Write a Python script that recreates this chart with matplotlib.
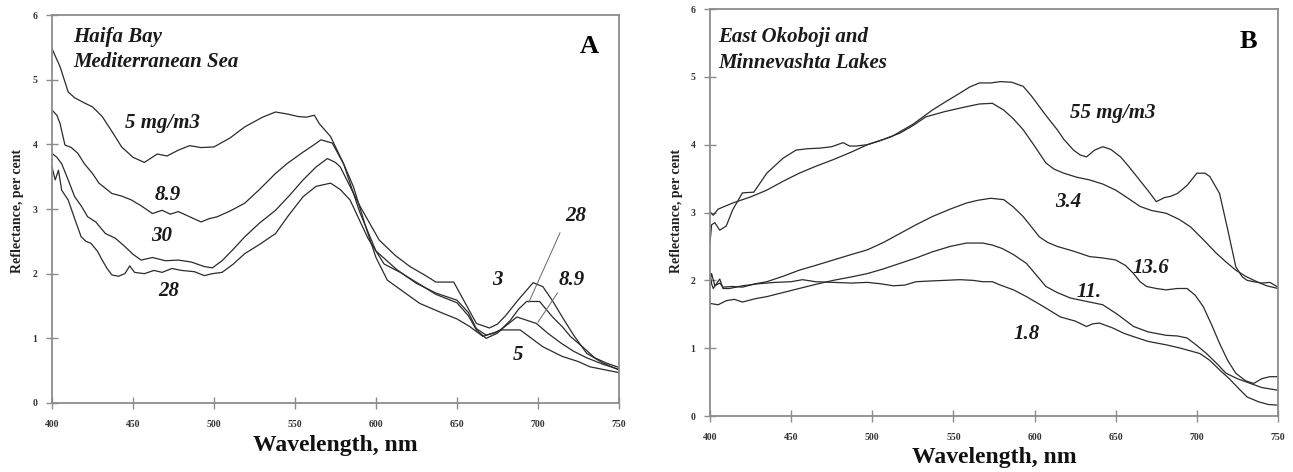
import matplotlib
matplotlib.use("Agg")
import matplotlib.pyplot as plt

plt.rcParams['font.family'] = ['Liberation Serif', 'DejaVu Serif']

# ---- panel A : Haifa Bay ----
wl_a5 = [400, 405, 410, 414, 420, 425, 431, 437, 443, 450, 457, 465, 471, 478, 485, 492, 500, 510, 519, 530,
         538, 545, 552, 557, 562, 565, 572, 580, 586, 594, 600, 607, 617, 627, 641, 650, 658, 666, 672, 678,
         689, 696, 703, 715, 725, 732, 740, 750]
r_a5 = [5.48, 5.20, 4.81, 4.72, 4.64, 4.58, 4.43, 4.20, 3.96, 3.80, 3.72, 3.85, 3.82, 3.91, 3.98, 3.95, 3.96, 4.10, 4.27, 4.42,
        4.50, 4.47, 4.43, 4.42, 4.45, 4.32, 4.12, 3.70, 3.35, 2.70, 2.25, 1.90, 1.72, 1.54, 1.39, 1.30, 1.18, 1.03, 1.08, 1.13,
        1.13, 1.00, 0.87, 0.72, 0.64, 0.56, 0.52, 0.47]

wl_a89 = [400, 403, 405, 408, 412, 416, 420, 425, 429, 433, 437, 443, 449, 455, 462, 468, 473, 478, 485, 492,
          497, 502, 510, 519, 528, 538, 545, 555, 561, 566, 573, 580, 590, 600, 613, 625, 637, 650, 657, 662,
          668, 673, 678, 687, 693, 699, 706, 714, 722, 730, 740, 750]
r_a89 = [4.53, 4.45, 4.32, 3.99, 3.95, 3.86, 3.70, 3.55, 3.40, 3.32, 3.24, 3.20, 3.14, 3.05, 2.93, 2.98, 2.92, 2.96, 2.88, 2.80,
         2.85, 2.88, 2.97, 3.09, 3.30, 3.55, 3.70, 3.88, 3.98, 4.07, 4.02, 3.70, 2.95, 2.35, 2.06, 1.85, 1.70, 1.59, 1.40, 1.15,
         1.05, 1.08, 1.15, 1.33, 1.28, 1.23, 1.08, 0.93, 0.80, 0.70, 0.60, 0.52]

wl_a30 = [400, 403, 406, 410, 414, 418, 422, 427, 433, 439, 445, 450, 455, 462, 470, 478, 486, 494, 499, 505,
          512, 519, 528, 538, 547, 555, 563, 570, 575, 578, 590, 602, 612, 621, 630, 637, 648, 655, 662, 670,
          675, 680, 688, 697, 703, 709, 715, 722, 730, 740, 750]
r_a30 = [3.86, 3.80, 3.70, 3.45, 3.19, 3.05, 2.88, 2.80, 2.62, 2.55, 2.42, 2.30, 2.21, 2.25, 2.20, 2.21, 2.18, 2.11, 2.09, 2.20,
         2.38, 2.57, 2.78, 2.98, 3.22, 3.45, 3.65, 3.78, 3.72, 3.65, 3.05, 2.52, 2.28, 2.11, 1.98, 1.87, 1.87, 1.55, 1.23, 1.16,
         1.22, 1.35, 1.60, 1.86, 1.80, 1.58, 1.33, 1.05, 0.77, 0.62, 0.51]

wl_a28 = [400, 402, 404, 406, 410, 414, 418, 421, 424, 428, 431, 434, 437, 441, 445, 448, 451, 457, 463, 468,
          474, 480, 488, 494, 499, 505, 512, 519, 528, 538, 546, 555, 563, 572, 578, 584, 595, 605, 615, 626,
          637, 650, 657, 662, 668, 675, 683, 688, 693, 701, 705, 709, 715, 720, 727, 735, 742, 750]
r_a28 = [3.65, 3.45, 3.60, 3.29, 3.14, 2.85, 2.57, 2.50, 2.47, 2.35, 2.21, 2.08, 1.98, 1.96, 2.00, 2.12, 2.02, 2.00, 2.05, 2.02,
         2.08, 2.05, 2.03, 1.97, 2.00, 2.02, 2.15, 2.31, 2.45, 2.62, 2.90, 3.19, 3.35, 3.40, 3.30, 3.14, 2.55, 2.15, 2.02, 1.85,
         1.68, 1.55, 1.35, 1.13, 1.00, 1.08, 1.28, 1.45, 1.57, 1.57, 1.45, 1.33, 1.18, 1.03, 0.88, 0.70, 0.62, 0.55]

# ---- panel B : East Okoboji and Minnevashta Lakes ----
wl_b55 = [400, 401, 403, 406, 410, 414, 420, 427, 435, 445, 453, 460, 468, 475, 482, 486, 490, 497, 505, 512,
          517, 525, 537, 545, 554, 560, 566, 573, 579, 586, 593, 598, 603, 608, 614, 618, 624, 628, 632, 637,
          642, 647, 653, 658, 663, 670, 675, 680, 684, 688, 694, 700, 705, 708, 714, 719, 724, 728, 731, 735,
          740, 745, 750]
r_b55 = [2.55, 2.82, 2.85, 2.74, 2.80, 3.04, 3.29, 3.30, 3.58, 3.80, 3.92, 3.94, 3.95, 3.97, 4.03, 3.98, 3.98, 4.00, 4.06, 4.12,
         4.19, 4.30, 4.51, 4.63, 4.76, 4.85, 4.91, 4.91, 4.93, 4.92, 4.86, 4.72, 4.56, 4.40, 4.22, 4.08, 3.92, 3.85, 3.82, 3.92,
         3.97, 3.93, 3.82, 3.68, 3.53, 3.32, 3.16, 3.22, 3.24, 3.28, 3.40, 3.58, 3.58, 3.53, 3.28, 2.75, 2.20, 2.05, 2.00, 1.98,
         1.96, 1.97, 1.90]

wl_b34 = [400, 402, 405, 414, 425, 435, 445, 455, 465, 476, 487, 497, 507, 517, 525, 533, 545, 558, 566, 574,
          581, 587, 593, 600, 607, 612, 618, 626, 634, 642, 650, 657, 665, 672, 681, 689, 696, 704, 712, 718,
          724, 730, 737, 743, 750]
r_b34 = [3.01, 2.96, 3.05, 3.14, 3.23, 3.33, 3.46, 3.58, 3.68, 3.78, 3.89, 4.00, 4.08, 4.17, 4.28, 4.41, 4.49, 4.56, 4.60, 4.61,
         4.51, 4.38, 4.22, 3.98, 3.73, 3.64, 3.58, 3.52, 3.48, 3.42, 3.33, 3.22, 3.09, 3.03, 2.99, 2.90, 2.79, 2.60, 2.40, 2.27,
         2.15, 2.06, 1.98, 1.92, 1.88]

wl_b136 = [400, 401, 403, 406, 408, 414, 420, 428, 435, 445, 455, 465, 476, 487, 497, 507, 517, 527, 537, 548,
           558, 565, 573, 581, 587, 593, 603, 608, 614, 624, 634, 642, 650, 656, 661, 665, 669, 675, 681, 688,
           694, 699, 704, 709, 714, 719, 724, 730, 735, 740, 745, 750]
r_b136 = [2.00, 2.10, 1.92, 1.96, 1.90, 1.91, 1.90, 1.95, 1.98, 2.06, 2.15, 2.22, 2.30, 2.38, 2.45, 2.56, 2.69, 2.82, 2.94, 3.05,
          3.14, 3.18, 3.21, 3.19, 3.08, 2.94, 2.64, 2.56, 2.50, 2.43, 2.35, 2.33, 2.30, 2.22, 2.10, 1.98, 1.91, 1.88, 1.86, 1.88,
          1.88, 1.78, 1.61, 1.35, 1.07, 0.82, 0.63, 0.52, 0.48, 0.55, 0.58, 0.58]

wl_b11 = [400, 405, 410, 415, 420, 428, 435, 445, 455, 465, 476, 487, 497, 507, 517, 527, 537, 548, 558, 568,
          574, 580, 587, 595, 601, 607, 614, 622, 632, 642, 651, 661, 670, 681, 688, 694, 700, 706, 712, 718,
          725, 733, 740, 750]
r_b11 = [1.66, 1.64, 1.70, 1.72, 1.68, 1.73, 1.76, 1.82, 1.88, 1.94, 2.00, 2.05, 2.10, 2.17, 2.25, 2.33, 2.42, 2.50, 2.55, 2.55,
         2.52, 2.47, 2.38, 2.25, 2.08, 1.91, 1.82, 1.74, 1.69, 1.64, 1.50, 1.32, 1.24, 1.19, 1.18, 1.15, 1.04, 0.92, 0.78, 0.63,
         0.55, 0.48, 0.42, 0.38]

wl_b18 = [400, 401, 402, 404, 406, 408, 412, 420, 430, 440, 450, 457, 465, 476, 487, 497, 505, 513, 520, 527,
          535, 545, 554, 562, 568, 574, 579, 587, 595, 605, 616, 625, 632, 636, 640, 648, 655, 661, 670, 681,
          690, 696, 702, 708, 714, 720, 726, 731, 738, 744, 750]
r_b18 = [2.10, 1.95, 1.88, 1.95, 2.02, 1.88, 1.88, 1.92, 1.95, 1.97, 1.98, 2.01, 1.98, 1.97, 1.96, 1.97, 1.95, 1.92, 1.93, 1.98,
         1.99, 2.00, 2.01, 2.00, 1.98, 1.98, 1.93, 1.86, 1.76, 1.62, 1.46, 1.40, 1.32, 1.36, 1.37, 1.30, 1.22, 1.17, 1.10, 1.05,
         1.00, 0.96, 0.92, 0.82, 0.68, 0.55, 0.40, 0.28, 0.21, 0.17, 0.16]

line_col = '#2b2b2b'
frame_col = '#8c8c8c'
lab = dict(fontsize=15, fontweight='bold', fontstyle='italic', color='#1a1a1a')


def style_axes(ax):
    ax.set_xlim(400, 750)
    ax.set_ylim(0, 6)
    ax.set_xticks(range(400, 751, 50))
    ax.set_yticks(range(0, 7))
    for s in ax.spines.values():
        s.set_color(frame_col)
        s.set_linewidth(1.3)
    ax.tick_params(direction='inout', length=9, width=1.0, color=frame_col,
                   labelsize=7, labelcolor='#333333')
    ax.tick_params(axis='x', pad=8)
    ax.tick_params(axis='y', pad=6)
    for t in ax.get_xticklabels() + ax.get_yticklabels():
        t.set_fontweight('bold')


fig = plt.figure(figsize=(12.93, 4.72), dpi=100)

# panel A
axA = fig.add_axes([0.0402, 0.1462, 0.4385, 0.822])
for w, r in [(wl_a5, r_a5), (wl_a89, r_a89), (wl_a30, r_a30), (wl_a28, r_a28)]:
    axA.plot(w, r, color=line_col, lw=0.9)
style_axes(axA)
axA.text(413, 5.58, 'Haifa Bay', **lab)
axA.text(413, 5.19, 'Mediterranean Sea', **lab)
axA.text(731.5, 5.52, 'A', fontsize=19, fontweight='bold', ha='center', va='center')
axA.text(468.5, 4.33, '5 mg/m3', ha='center', va='center', **lab)
axA.text(471.6, 3.21, '8.9', ha='center', va='center', **lab)
axA.text(467.9, 2.58, '30', ha='center', va='center', **lab)
axA.text(472.2, 1.73, '28', ha='center', va='center', **lab)
axA.text(723.5, 2.89, '28', ha='center', va='center', **lab)
axA.text(674.7, 1.90, '3', ha='center', va='center', **lab)
axA.text(721.0, 1.90, '8.9', ha='center', va='center', **lab)
axA.text(687.7, 0.74, '5', ha='center', va='center', **lab)
axA.plot([713.6, 694.4], [2.63, 1.56], color='#666666', lw=0.7)
axA.plot([712.0, 700.0], [1.70, 1.25], color='#666666', lw=0.7)

# panel B
axB = fig.add_axes([0.5491, 0.1186, 0.4393, 0.8623])
for w, r in [(wl_b55, r_b55), (wl_b34, r_b34), (wl_b136, r_b136), (wl_b11, r_b11), (wl_b18, r_b18)]:
    axB.plot(w, r, color=line_col, lw=0.9)
style_axes(axB)
axB.text(405, 5.52, 'East Okoboji and', **lab)
axB.text(405, 5.13, 'Minnevashta Lakes', **lab)
axB.text(731.5, 5.52, 'B', fontsize=19, fontweight='bold', ha='center', va='center')
axB.text(648.3, 4.47, '55 mg/m3', ha='center', va='center', **lab)
axB.text(620.6, 3.16, '3.4', ha='center', va='center', **lab)
axB.text(671.7, 2.18, '13.6', ha='center', va='center', **lab)
axB.text(633.5, 1.83, '11.', ha='center', va='center', **lab)
axB.text(595.3, 1.21, '1.8', ha='center', va='center', **lab)

# axis titles
fig.text(18 / 1293, 1 - 211 / 472, 'Reflectance, per cent', rotation=90, ha='center', va='center',
         fontsize=10, fontweight='bold', color='#222222')
fig.text(677 / 1293, 1 - 211 / 472, 'Reflectance, per cent', rotation=90, ha='center', va='center',
         fontsize=10, fontweight='bold', color='#222222')
fig.text(335 / 1293, 1 - 445 / 472, 'Wavelength, nm', ha='center', va='center',
         fontsize=17, fontweight='bold', color='#111111')
fig.text(994 / 1293, 1 - 457 / 472, 'Wavelength, nm', ha='center', va='center',
         fontsize=17, fontweight='bold', color='#111111')

fig.savefig('out.png', dpi=100, facecolor='white')
